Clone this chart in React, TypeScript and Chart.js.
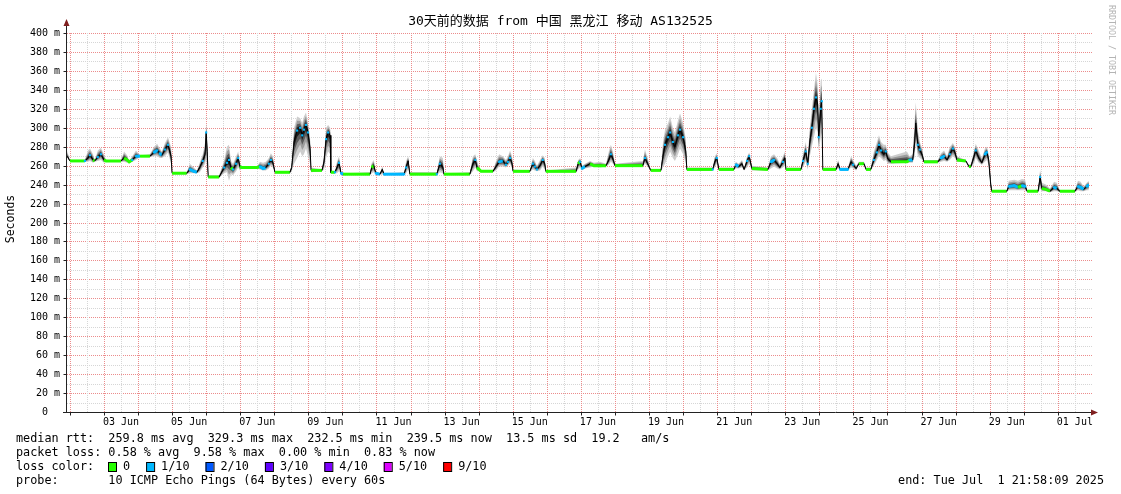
import React, { useEffect, useRef } from "react";
import { Chart, registerables } from "chart.js";

Chart.register(...registerables);

// Time axis: fractional day-of-June (Jun 1 00:00 = 1.0; 31.0 = Jul 1 00:00)
const rangeStartDay = 1.915; // Jun 1 21:58
const rangeEndDay = 31.915; // Jul 1 21:58

const sampleDays = [
  1.92, 2.0, 2.44, 2.53, 2.59, 2.68, 2.73, 2.82, 2.91, 3.0,
  3.06, 3.5, 3.59, 3.68, 3.74, 3.83, 3.94, 4.06, 4.35, 4.47,
  4.56, 4.64, 4.7, 4.79, 4.88, 4.97, 5.0, 5.43, 5.52, 5.64,
  5.73, 5.81, 5.9, 5.97, 6.0, 6.03, 6.06, 6.38, 6.44, 6.53,
  6.61, 6.67, 6.73, 6.79, 6.88, 6.94, 6.99, 7.05, 7.49, 7.58,
  7.67, 7.75, 7.84, 7.9, 7.96, 8.02, 8.46, 8.51, 8.58, 8.67,
  8.76, 8.82, 8.87, 8.93, 8.99, 9.05, 9.08, 9.4, 9.46, 9.52,
  9.58, 9.64, 9.66, 9.78, 9.84, 9.9, 9.96, 10.02, 10.81, 10.86,
  10.92, 10.98, 11.1, 11.17, 11.22, 11.81, 11.87, 11.93, 11.98, 12.77,
  12.86, 12.95, 12.98, 13.74, 13.83, 13.9, 13.95, 14.01, 14.07, 14.42,
  14.51, 14.6, 14.71, 14.8, 14.86, 14.92, 14.98, 15.01, 15.5, 15.59,
  15.65, 15.71, 15.8, 15.88, 15.94, 15.97, 16.86, 16.92, 16.98, 17.03,
  17.12, 17.27, 17.38, 17.56, 17.74, 17.82, 17.88, 17.94, 18.0, 18.82,
  18.88, 18.96, 19.05, 19.35, 19.41, 19.47, 19.56, 19.62, 19.7, 19.76,
  19.85, 19.91, 20.0, 20.08, 20.11, 20.87, 20.93, 20.99, 21.05, 21.49,
  21.55, 21.63, 21.73, 21.79, 21.88, 21.94, 22.02, 22.49, 22.58, 22.67,
  22.76, 22.84, 22.93, 22.99, 23.02, 23.46, 23.52, 23.6, 23.66, 23.72,
  23.78, 23.84, 23.9, 23.95, 23.98, 24.04, 24.07, 24.1, 24.49, 24.55,
  24.61, 24.84, 24.93, 24.99, 25.08, 25.16, 25.31, 25.37, 25.51, 25.6,
  25.69, 25.75, 25.81, 25.89, 25.95, 26.01, 26.1, 26.57, 26.65, 26.74,
  26.8, 26.83, 26.89, 26.95, 27.02, 27.07, 27.48, 27.57, 27.66, 27.75,
  27.83, 27.92, 27.98, 28.04, 28.3, 28.39, 28.45, 28.54, 28.59, 28.68,
  28.77, 28.86, 28.92, 28.97, 29.03, 29.06, 29.5, 29.56, 29.72, 29.83,
  29.95, 30.04, 30.1, 30.42, 30.48, 30.53, 30.65, 30.77, 30.89, 30.97,
  31.06, 31.5, 31.59, 31.67, 31.76, 31.85, 31.91,
];

const medianRtt = [
  270, 265, 265, 268, 271, 266, 265, 269, 272, 266,
  265, 265, 268, 266, 264, 266, 270, 270, 270, 274,
  276, 273, 271, 277, 282, 270, 252, 252, 256, 254,
  253, 258, 265, 272, 295, 275, 248, 248, 252, 258,
  263, 266, 258, 256, 262, 268, 259, 258, 258, 259,
  257, 258, 262, 266, 263, 253, 253, 258, 285, 297,
  300, 292, 298, 303, 295, 278, 255, 255, 264, 288,
  295, 292, 253, 253, 258, 263, 252, 251, 251, 258,
  260, 252, 251, 256, 251, 251, 258, 265, 251, 251,
  262, 258, 251, 251, 262, 266, 258, 256, 254, 254,
  259, 264, 265, 261, 264, 268, 262, 254, 254, 262,
  259, 256, 260, 266, 262, 254, 254, 262, 264, 257,
  259, 262, 260, 260, 260, 266, 272, 267, 260, 260,
  268, 262, 255, 255, 270, 282, 290, 295, 285, 280,
  292, 298, 290, 275, 256, 256, 264, 268, 256, 256,
  261, 259, 262, 256, 265, 270, 257, 256, 264, 266,
  262, 258, 264, 268, 256, 256, 265, 275, 262, 285,
  300, 320, 332, 325, 290, 320, 328, 256, 256, 262,
  256, 256, 264, 261, 257, 262, 262, 256, 256, 266,
  274, 282, 276, 272, 275, 267, 264, 264, 266, 266,
  285, 305, 282, 277, 271, 264, 264, 268, 270, 266,
  272, 278, 274, 266, 265, 259, 259, 270, 276, 268,
  263, 272, 274, 266, 240, 233, 233, 238, 239, 237,
  239, 238, 233, 233, 248, 236, 235, 233, 237, 236,
  233, 233, 238, 237, 235, 238, 239.5,
];

const smokeLow = [
  268, 265, 264, 264, 265, 263, 264, 265, 266, 263,
  264, 264, 264, 263, 263, 264, 266, 269, 269, 270,
  270, 268, 268, 270, 274, 262, 251, 251, 252, 252,
  252, 253, 258, 262, 268, 255, 247, 247, 249, 252,
  253, 244, 251, 250, 254, 258, 255, 257, 257, 256,
  255, 255, 257, 260, 258, 252, 252, 254, 262, 268,
  275, 270, 272, 278, 270, 262, 253, 254, 256, 268,
  275, 272, 252, 252, 252, 254, 251, 250, 250, 252,
  253, 251, 250, 251, 250, 250, 252, 256, 250, 250,
  253, 252, 250, 250, 254, 258, 254, 254, 253, 253,
  255, 259, 259, 258, 260, 262, 257, 253, 253, 256,
  255, 254, 255, 259, 256, 253, 253, 256, 258, 255,
  257, 258, 259, 258, 259, 261, 264, 262, 259, 259,
  262, 259, 254, 254, 258, 262, 270, 275, 268, 265,
  272, 278, 272, 262, 255, 255, 258, 262, 255, 255,
  257, 257, 258, 255, 258, 262, 255, 255, 257, 259,
  257, 256, 258, 260, 255, 255, 258, 264, 256, 270,
  280, 290, 300, 295, 275, 290, 295, 255, 255, 257,
  255, 255, 258, 257, 255, 261, 261, 255, 255, 260,
  266, 270, 268, 265, 266, 262, 262, 263, 263, 263,
  270, 285, 270, 268, 266, 263, 263, 264, 265, 264,
  266, 270, 268, 264, 264, 258, 258, 262, 268, 263,
  261, 264, 266, 260, 236, 232, 232, 234, 234, 234,
  234, 234, 232, 232, 236, 233, 233, 232, 233, 233,
  232, 232, 234, 233, 233, 234, 234,
];

const smokeHigh = [
  276, 266, 266, 276, 278, 272, 266, 276, 279, 272,
  266, 266, 275, 271, 265, 270, 276, 271, 272, 280,
  283, 278, 275, 284, 290, 280, 253, 253, 262, 258,
  255, 263, 272, 285, 305, 290, 250, 250, 256, 266,
  280, 282, 265, 262, 270, 275, 263, 259, 259, 264,
  263, 264, 268, 273, 270, 254, 254, 262, 300, 312,
  310, 305, 312, 316, 305, 290, 258, 256, 272, 300,
  303, 300, 255, 254, 264, 270, 254, 252, 253, 263,
  266, 254, 252, 259, 252, 253, 265, 270, 253, 253,
  270, 268, 252, 253, 270, 272, 266, 258, 255, 255,
  265, 272, 270, 266, 270, 276, 270, 256, 255, 268,
  265, 260, 266, 271, 268, 255, 258, 266, 268, 260,
  262, 265, 263, 264, 262, 275, 282, 275, 262, 265,
  277, 268, 256, 256, 285, 298, 305, 312, 300, 295,
  308, 315, 305, 288, 258, 258, 270, 273, 258, 258,
  264, 262, 266, 258, 270, 274, 260, 258, 270, 272,
  268, 262, 270, 275, 258, 258, 272, 285, 270, 300,
  320, 340, 358, 345, 310, 350, 352, 258, 258, 266,
  258, 258, 270, 266, 260, 264, 264, 258, 258, 275,
  285, 292, 285, 282, 282, 274, 270, 275, 270, 272,
  310, 327, 298, 285, 278, 266, 266, 273, 276, 270,
  280, 284, 280, 270, 266, 261, 262, 276, 283, 276,
  268, 278, 280, 272, 250, 234, 234, 244, 245, 244,
  246, 245, 234, 234, 256, 242, 240, 236, 243, 242,
  234, 234, 244, 243, 238, 242, 244,
];

// packet loss per sample, in tenths (0 or 1 here)
const lossTenths = [
  0, 0, 1, 0, 1, 0, 0, 1, 1, 0,
  0, 0, 0, 0, 0, 1, 1, 0, 0, 1,
  1, 1, 0, 1, 1, 0, 0, 0, 1, 1,
  0, 0, 1, 0, 1, 0, 0, 0, 0, 1,
  1, 1, 0, 1, 1, 1, 0, 0, 0, 1,
  1, 0, 1, 1, 0, 0, 0, 0, 0, 1,
  1, 1, 1, 1, 1, 0, 0, 0, 0, 1,
  1, 0, 0, 1, 0, 1, 1, 0, 0, 0,
  0, 1, 0, 0, 1, 1, 1, 0, 0, 1,
  1, 0, 0, 0, 0, 1, 0, 0, 0, 0,
  0, 1, 0, 1, 1, 1, 0, 0, 0, 1,
  1, 1, 0, 1, 0, 0, 0, 0, 1, 1,
  0, 0, 0, 0, 0, 0, 1, 0, 0, 0,
  1, 0, 0, 0, 0, 1, 1, 1, 1, 0,
  1, 1, 1, 0, 0, 1, 0, 1, 0, 0,
  1, 0, 0, 0, 1, 1, 0, 0, 1, 1,
  0, 0, 1, 0, 0, 0, 1, 1, 1, 0,
  1, 1, 1, 0, 1, 1, 1, 0, 0, 0,
  1, 1, 0, 1, 0, 0, 0, 0, 0, 1,
  1, 1, 1, 0, 1, 0, 0, 0, 1, 0,
  0, 0, 1, 1, 0, 0, 0, 1, 1, 0,
  1, 1, 0, 0, 0, 0, 0, 0, 1, 0,
  0, 1, 1, 0, 0, 0, 0, 1, 1, 0,
  1, 1, 0, 0, 1, 0, 0, 0, 1, 0,
  0, 0, 1, 1, 0, 1, 1,
];

const yTickValues = [0, 20, 40, 60, 80, 100, 120, 140, 160, 180, 200, 220, 240, 260, 280, 300, 320, 340, 360, 380, 400];
const yTickLabels = ["0  ", "20 m", "40 m", "60 m", "80 m", "100 m", "120 m", "140 m", "160 m", "180 m", "200 m", "220 m", "240 m", "260 m", "280 m", "300 m", "320 m", "340 m", "360 m", "380 m", "400 m"];
const xTickDays = [3.5, 5.5, 7.5, 9.5, 11.5, 13.5, 15.5, 17.5, 19.5, 21.5, 23.5, 25.5, 27.5, 29.5, 31.5];
const xTickLabels = ["03 Jun", "05 Jun", "07 Jun", "09 Jun", "11 Jun", "13 Jun", "15 Jun", "17 Jun", "19 Jun", "21 Jun", "23 Jun", "25 Jun", "27 Jun", "29 Jun", "01 Jul"];

const lossLegendLabels = ["0", "1/10", "2/10", "3/10", "4/10", "5/10", "9/10"];
const lossLegendColors = ["#26ff00", "#00b8ff", "#0059ff", "#5e00ff", "#7e00ff", "#dd00ff", "#ff0000"];

const titleText = "30天前的数据 from 中国 黑龙江 移动 AS132525";
const yAxisTitle = "Seconds";
const statsLine = "median rtt:  259.8 ms avg  329.3 ms max  232.5 ms min  239.5 ms now  13.5 ms sd  19.2   am/s";
const lossLine = "packet loss: 0.58 % avg  9.58 % max  0.00 % min  0.83 % now";
const lossColorCaption = "loss color:";
const probeLine = "probe:       10 ICMP Echo Pings (64 Bytes) every 60s";
const endLine = "end: Tue Jul  1 21:58:09 2025";
const watermark = "RRDTOOL / TOBI OETIKER";

const smokeFractions = [0.22, 0.45, 0.7, 1];
const smokeColors = ["#1c1c1c", "#5a5a5a", "#9c9c9c", "#cdcdcd"];

const MONO = '"DejaVu Sans Mono", monospace';
const MAJOR_GRID = "rgb(236, 140, 140)";
const MINOR_GRID = "rgb(214, 214, 214)";
const AXIS = "#222222";
const ARROW = "#7f1f1f";

// draws a 1px dotted line pixel by pixel (every other pixel)
function dottedH(ctx: CanvasRenderingContext2D, x0: number, x1: number, y: number) {
  for (let x = x0; x <= x1; x += 2) ctx.fillRect(x, y, 1, 1);
}
function dottedV(ctx: CanvasRenderingContext2D, x: number, y0: number, y1: number) {
  for (let y = y0; y <= y1; y += 2) ctx.fillRect(x, y, 1, 1);
}

const gridPlugin = {
  id: "rrdGrid",
  beforeDatasetsDraw(chart: any) {
    const { ctx, chartArea: a } = chart;
    const xs = chart.scales.x;
    const ys = chart.scales.y;
    ctx.save();
    const L = Math.round(a.left);
    const R = Math.round(a.right) + 3;
    const T = Math.round(a.top);
    const B = Math.round(a.bottom);
    for (let v = 10; v <= 400; v += 10) {
      const py = Math.round(ys.getPixelForValue(v));
      ctx.fillStyle = v % 20 === 0 ? MAJOR_GRID : MINOR_GRID;
      dottedH(ctx, L, R, py);
    }
    const first = Math.ceil(xs.min * 2) / 2;
    for (let d = first; d <= xs.max; d += 0.5) {
      const px = Math.round(xs.getPixelForValue(d));
      ctx.fillStyle = Number.isInteger(d) ? MAJOR_GRID : MINOR_GRID;
      dottedV(ctx, px, T, B);
    }
    ctx.restore();
  },
};

const decorPlugin = {
  id: "rrdDecor",
  afterDraw(chart: any) {
    const { ctx, chartArea: a } = chart;
    const xs = chart.scales.x;
    const ys = chart.scales.y;
    ctx.save();
    ctx.setLineDash([]);
    ctx.lineWidth = 1;
    ctx.strokeStyle = AXIS;
    const ax = a.left - 0.5;
    const ay = a.bottom + 0.5;
    // axes
    ctx.beginPath();
    ctx.moveTo(ax, ay);
    ctx.lineTo(ax, a.top - 10);
    ctx.moveTo(a.left - 4, ay);
    ctx.lineTo(a.right + 4, ay);
    ctx.stroke();
    // y ticks
    ctx.beginPath();
    yTickValues.forEach((v) => {
      const py = Math.round(ys.getPixelForValue(v)) + 0.5;
      ctx.moveTo(ax - 3, py);
      ctx.lineTo(ax, py);
    });
    // x ticks at midnights
    for (let d = Math.ceil(xs.min); d <= xs.max; d += 1) {
      const px = Math.round(xs.getPixelForValue(d)) + 0.5;
      ctx.moveTo(px, ay);
      ctx.lineTo(px, ay + 3);
    }
    ctx.stroke();
    // arrows
    ctx.fillStyle = ARROW;
    ctx.beginPath();
    ctx.moveTo(ax, a.top - 14);
    ctx.lineTo(ax - 3, a.top - 7);
    ctx.lineTo(ax + 3, a.top - 7);
    ctx.closePath();
    ctx.fill();
    ctx.beginPath();
    ctx.moveTo(a.right + 9, ay);
    ctx.lineTo(a.right + 2, ay - 3);
    ctx.lineTo(a.right + 2, ay + 3);
    ctx.closePath();
    ctx.fill();

    // tick labels
    ctx.fillStyle = "#000";
    ctx.font = `10px ${MONO}`;
    ctx.textBaseline = "middle";
    ctx.textAlign = "right";
    yTickValues.forEach((v, i) => {
      ctx.fillText(yTickLabels[i], a.left - 7, Math.round(ys.getPixelForValue(v)) + 0.5);
    });
    ctx.textAlign = "center";
    xTickDays.forEach((d, i) => {
      ctx.fillText(xTickLabels[i], xs.getPixelForValue(d), a.bottom + 10);
    });

    // title
    ctx.font = `13px "DejaVu Sans Mono", "Noto Sans CJK SC", monospace`;
    ctx.textAlign = "center";
    ctx.fillText(titleText, chart.width / 2, 22);

    // y-axis title
    ctx.save();
    ctx.translate(11, 219);
    ctx.rotate(-Math.PI / 2);
    ctx.font = `11.5px ${MONO}`;
    ctx.fillText(yAxisTitle, 0, 0);
    ctx.restore();

    // watermark
    ctx.save();
    ctx.translate(1111, 5);
    ctx.rotate(Math.PI / 2);
    ctx.font = `8.3px ${MONO}`;
    ctx.fillStyle = "#b4b4b4";
    ctx.textAlign = "left";
    ctx.fillText(watermark, 0, 0);
    ctx.restore();

    // statistics legend
    ctx.font = `11.8px ${MONO}`;
    ctx.textAlign = "left";
    ctx.fillStyle = "#000";
    ctx.fillText(statsLine, 16, 439);
    ctx.fillText(lossLine, 16, 453);
    ctx.fillText(lossColorCaption, 16, 467);
    let bx = 108;
    lossLegendLabels.forEach((lab, i) => {
      ctx.fillStyle = lossLegendColors[i];
      ctx.fillRect(bx, 462, 8, 9);
      ctx.strokeStyle = "#000";
      ctx.strokeRect(bx + 0.5, 462.5, 8, 9);
      ctx.fillStyle = "#000";
      ctx.fillText(lab, bx + 15, 467);
      bx = bx + 15 + ctx.measureText(lab).width + 16;
    });
    ctx.fillText(probeLine, 16, 481);
    ctx.textAlign = "right";
    ctx.fillText(endLine, 1104, 481);
    ctx.restore();
  },
};

export default function App() {
  const canvasRef = useRef<HTMLCanvasElement | null>(null);

  useEffect(() => {
    const canvas = canvasRef.current;
    if (!canvas) return;

    const medianPts = sampleDays.map((d, i) => ({ x: d, y: medianRtt[i] }));
    const isFlat = (i: number, j: number) => Math.abs(medianRtt[i] - medianRtt[j]) <= 2.5;

    const smokeSets: any[] = [];
    smokeFractions.forEach((f, k) => {
      smokeSets.push({
        data: sampleDays.map((d, i) => ({ x: d, y: medianRtt[i] + (smokeHigh[i] - medianRtt[i]) * f })),
        borderWidth: 0,
        pointRadius: 0,
        fill: "+1",
        backgroundColor: smokeColors[k],
      });
      smokeSets.push({
        data: sampleDays.map((d, i) => ({ x: d, y: medianRtt[i] - (medianRtt[i] - smokeLow[i]) * f })),
        borderWidth: 0,
        pointRadius: 0,
        fill: false,
      });
    });

    const chart = new Chart(canvas, {
      type: "line",
      data: {
        datasets: [
          {
            data: medianPts,
            borderColor: "#26ff00",
            borderWidth: 3,
            fill: false,
            pointStyle: "rect",
            pointRadius: (c: any) => (lossTenths[c.dataIndex] > 0 ? 1.5 : 0),
            pointBackgroundColor: lossLegendColors[1],
            pointBorderWidth: 0,
            segment: {
              borderColor: (c: any) =>
                isFlat(c.p0DataIndex, c.p1DataIndex)
                  ? lossLegendColors[Math.min(lossTenths[c.p0DataIndex], 1)]
                  : "#000000",
              borderWidth: (c: any) => (isFlat(c.p0DataIndex, c.p1DataIndex) ? 3 : 1),
            },
          },
          ...smokeSets,
        ],
      },
      options: {
        animation: false,
        responsive: true,
        maintainAspectRatio: false,
        events: [],
        layout: { padding: { left: 67, right: 32, top: 33, bottom: 82 } },
        elements: { line: { tension: 0 } },
        plugins: {
          legend: { display: false },
          title: { display: false },
          tooltip: { enabled: false },
          filler: { propagate: false },
        },
        scales: {
          x: { type: "linear", min: rangeStartDay, max: rangeEndDay, display: false },
          y: { type: "linear", min: 0, max: 400, display: false },
        },
      } as any,
      plugins: [gridPlugin, decorPlugin],
    });

    return () => chart.destroy();
  }, []);

  return (
    <div
      style={{
        position: "fixed",
        left: 0,
        top: 0,
        width: 1121,
        height: 494,
        background: "#ffffff",
      }}
    >
      <canvas ref={canvasRef} />
    </div>
  );
}
